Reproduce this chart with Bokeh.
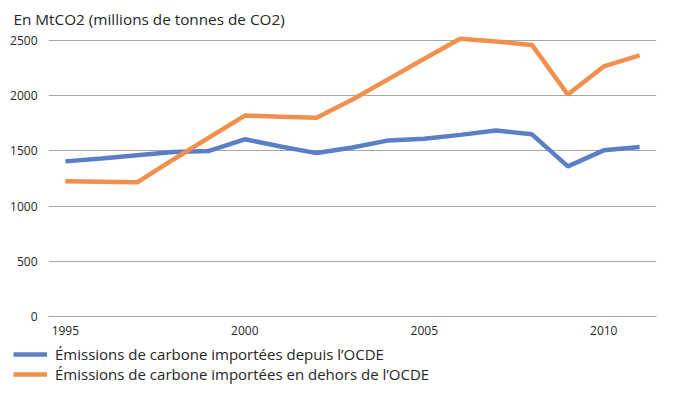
from bokeh.plotting import figure
from bokeh.models import Range1d, FixedTicker, Legend, LegendItem, Title
from bokeh.embed import file_html
from bokeh.resources import INLINE

years = list(range(1995, 2012))
ocde = [1405, 1430, 1460, 1490, 1500, 1605, 1540, 1480, 1530, 1595, 1610, 1645, 1685, 1650, 1360, 1505, 1535]
hors_ocde = [1225, 1220, 1215, 1420, 1620, 1820, 1810, 1800, 1965, 2150, 2335, 2515, 2490, 2460, 2010, 2265, 2365]
x_ticks = [1995, 2000, 2005, 2010]
y_ticks = [0, 500, 1000, 1500, 2000, 2500]
title_text = "En MtCO2 (millions de tonnes de CO2)"
label_ocde = "Émissions de carbone importées depuis l’OCDE"
label_hors = "Émissions de carbone importées en dehors de l’OCDE"

FONT = "Open Sans"
GRID = "#a6a6a6"
TXT = "#262626"
BLUE = "#5B7FC6"
ORANGE = "#F0904C"

p = figure(width=674, height=340, output_backend="svg", toolbar_location=None,
           x_range=Range1d(1994.53, 2011.47), y_range=Range1d(0, 2545),
           min_border_left=48, min_border_right=18, min_border_top=34, min_border_bottom=24)
p.outline_line_color = None
p.background_fill_color = "white"
p.border_fill_color = "white"

t = Title(text=title_text, align="left", offset=-35, text_font=FONT,
          text_font_size="15.3px", text_font_style="normal", text_color=TXT, standoff=13)
p.add_layout(t, "above")

p.xgrid.grid_line_color = None
p.ygrid.grid_line_color = GRID
p.ygrid.grid_line_width = 1
p.ygrid.ticker = FixedTicker(ticks=y_ticks)

p.xaxis.ticker = FixedTicker(ticks=x_ticks)
p.xaxis.axis_line_color = GRID
p.xaxis.major_tick_line_color = None
p.xaxis.minor_tick_line_color = None
p.xaxis.major_label_text_font = FONT
p.xaxis.major_label_text_font_size = "12px"
p.xaxis.major_label_text_color = TXT
p.xaxis.major_label_standoff = 3

p.yaxis.ticker = FixedTicker(ticks=y_ticks)
p.yaxis.axis_line_color = None
p.yaxis.major_tick_line_color = None
p.yaxis.minor_tick_line_color = None
p.yaxis.major_label_text_font = FONT
p.yaxis.major_label_text_font_size = "12px"
p.yaxis.major_label_text_color = TXT
p.yaxis.major_label_standoff = 5

p.line(years, ocde, line_color=BLUE, line_width=4.5)
p.line(years, hors_ocde, line_color=ORANGE, line_width=4.5)

# legend strip below the chart
leg = figure(width=674, height=57, output_backend="svg", toolbar_location=None,
             x_range=Range1d(0, 1), y_range=Range1d(0, 1),
             min_border_left=0, min_border_right=0, min_border_top=0, min_border_bottom=0)
leg.axis.visible = False
leg.grid.visible = False
leg.outline_line_color = None
leg.background_fill_color = "white"
leg.border_fill_color = "white"
l1 = leg.line(years, ocde, line_color=BLUE, line_width=4.5)
l2 = leg.line(years, hors_ocde, line_color=ORANGE, line_width=4.5)

legend = Legend(items=[LegendItem(label=label_ocde, renderers=[l1]),
                       LegendItem(label=label_hors, renderers=[l2])],
                orientation="vertical", location=(13, 13),
                label_text_font=FONT, label_text_font_size="15px", label_text_color=TXT,
                glyph_width=34, glyph_height=18, label_height=18, spacing=0,
                label_standoff=8, padding=0, margin=0,
                border_line_color=None, background_fill_alpha=0)
leg.add_layout(legend, "center")

open("out.html", "w").write(file_html([p, leg], INLINE))
